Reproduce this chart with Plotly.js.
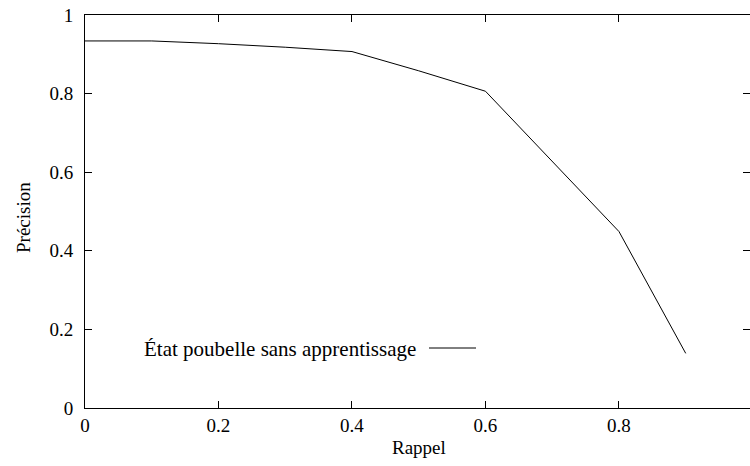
<!DOCTYPE html>
<html><head><meta charset="utf-8">
<script src="https://cdn.plot.ly/plotly-3.0.1.min.js"></script>
<style>html,body{margin:0;padding:0;background:#fff}</style>
</head><body>
<div id="chart" style="width:750px;height:466px"></div>
<script>
const recall = [0, 0.1, 0.2, 0.3, 0.4, 0.5, 0.6, 0.7, 0.8, 0.9];
const precision = [0.934, 0.934, 0.927, 0.918, 0.907, 0.858, 0.806, 0.627, 0.449, 0.139];
const seriesName = "État poubelle sans apprentissage";
const xTitle = "Rappel";
const yTitle = "Précision";
const xTicks = [0, 0.2, 0.4, 0.6, 0.8];
const xTickLabels = ["0", "0.2", "0.4", "0.6", "0.8"];
const yTicks = [0, 0.2, 0.4, 0.6, 0.8, 1];
const yTickLabels = ["0", "0.2", "0.4", "0.6", "0.8", "1"];

const fam = "'Liberation Serif', 'Times New Roman', serif";
const font = {family: fam, size: 19, color: "#000"};

const trace = {
  x: recall, y: precision, type: "scatter", mode: "lines", name: seriesName,
  line: {color: "#000", width: 1}, showlegend: false, hoverinfo: "skip"
};

const axisCommon = {
  showgrid: false, zeroline: false, showline: true, linecolor: "#000", linewidth: 1,
  mirror: "allticks", ticks: "inside", ticklen: 7, tickcolor: "#000", tickwidth: 1,
  tickfont: font
};

const W = 665, H = 393, L = 85, T = 15;
const px = v => (v - L) / W;
const py = v => (T + H - v) / H;

const layout = {
  width: 750, height: 466,
  margin: {l: L, r: 0, t: T, b: 466 - T - H},
  paper_bgcolor: "#fff", plot_bgcolor: "#fff",
  font: font,
  xaxis: Object.assign({}, axisCommon, {
    range: [0, 0.9963], tickvals: xTicks, ticktext: xTickLabels, ticklabelstandoff: 0
  }),
  yaxis: Object.assign({}, axisCommon, {
    range: [0, 1], tickvals: yTicks, ticktext: yTickLabels, ticklabelstandoff: 7
  }),
  annotations: [
    {xref: "paper", yref: "paper", x: px(418), y: py(349),
     xanchor: "right", yanchor: "middle", showarrow: false,
     text: seriesName, font: {family: fam, size: 21, color: "#000"}},
    {xref: "paper", yref: "paper", x: px(419), y: py(447),
     xanchor: "center", yanchor: "middle", showarrow: false,
     text: xTitle, font: font},
    {xref: "paper", yref: "paper", x: px(23), y: py(218),
     xanchor: "center", yanchor: "middle", showarrow: false, textangle: -90,
     text: yTitle, font: font}
  ],
  shapes: [{
    type: "line", xref: "paper", yref: "paper",
    x0: px(429), x1: px(476), y0: py(348), y1: py(348),
    line: {color: "#000", width: 1}
  }]
};

Plotly.newPlot("chart", [trace], layout, {staticPlot: true, displayModeBar: false});
</script>
</body></html>
